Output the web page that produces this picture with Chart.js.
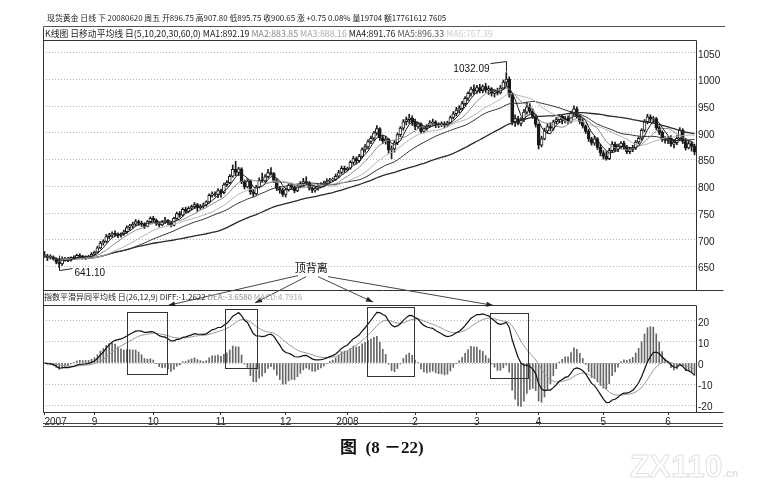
<!DOCTYPE html>
<html lang="zh-CN">
<head>
<meta charset="utf-8">
<title>现货黄金 日线 图(8-22)</title>
<script src="https://cdn.jsdelivr.net/npm/chart.js@4.4.1/dist/chart.umd.min.js"></script>
<style>
  body { margin: 0; background: #fff; }
  #wrap { position: relative; width: 763px; height: 484px; overflow: hidden; background: #fff; }
  #chart { position: absolute; left: 0; top: 0; }
  .row { position: absolute; white-space: nowrap; line-height: 1; font-family: "Noto Sans CJK SC", "Liberation Sans", sans-serif; font-size: 7.9px; color: #222; }
  .g1 { color: #888; }
  .g2 { color: #aaa; }
  .g3 { color: #555; }
  .g4 { color: #cfcfcf; }
  #rule { position: absolute; left: 43px; top: 26px; width: 682px; border-top: 1px solid #555; }
  #base { position: absolute; left: 43px; top: 423px; width: 680px; height: 2px; border-top: 1px solid #444; border-bottom: 1px solid #444; }
  #caption { position: absolute; left: 340px; top: 439px; font: bold 17px "Liberation Serif", "Noto Sans CJK SC", serif; color: #111; white-space: nowrap; line-height: 1; }
  #mark { position: absolute; left: 630px; top: 450px; font: bold 32px "Liberation Sans", sans-serif; color: transparent; -webkit-text-stroke: 1px #e2e2e2; white-space: nowrap; line-height: 1; }
  #mark small { font-size: 11px; -webkit-text-stroke: 0; color: #e2e2e2; }
</style>
</head>
<body>
<div id="wrap">
  <canvas id="chart" width="763" height="484"></canvas>
  <div class="row" style="left:47px;top:14px">现货黄金 日线 下 20080620 周五 开896.75 高907.80 低895.75 收900.65 涨 +0.75 0.08% 量19704 额17761612 7605</div>
  <div id="rule"></div>
  <div class="row" style="left:45px;top:30px;font-size:8.8px">K线图 日移动平均线 日(5,10,20,30,60,0) MA1:892.19 <span class="g1">MA2:883.85</span> <span class="g2">MA3:888.16</span> MA4:891.76 <span class="g3">MA5:896.33</span> <span class="g4">MA6:767.39</span></div>
  <div class="row" style="left:44px;top:293px;font-size:8px">指数平滑异同平均线 日(26,12,9) DIFF:-1.2622 <span class="g1">DEA:-3.6580</span> <span class="g2">MACD:4.7916</span></div>
  <div id="base"></div>
  <div id="caption">图 &nbsp;(8 －22)</div>
  <div id="mark">ZX110<small>.cn</small></div>
</div>
<script>
// month tick labels and number of daily bars in each month (2007-08-09 .. 2008-06-13)
const tickLabels = ['2007', '9', '10', '11', '12', '2008', '2', '3', '4', '5', '6'];
const monthBars = [17, 20, 23, 22, 21, 23, 21, 21, 22, 22, 10];

const opens = [
  672,670,666,668,664,658,655,664,665,662,667,666,671,669,667,668,669,
  673,677,685,694,697,706,709,712,710,708,711,715,723,726,729,734,731,729,725,734,
  740,737,730,728,733,737,732,727,740,749,746,757,753,759,762,766,760,763,765,771,783,786,785,
  792,788,803,807,819,832,826,833,809,799,810,790,786,799,812,810,818,826,824,811,796,793,
  785,794,802,798,792,801,805,809,807,797,793,796,801,803,806,810,812,813,819,826,834,
  831,834,845,852,848,856,869,874,884,890,900,908,891,885,888,868,870,882,897,909,921,925,928,
  920,912,917,903,908,913,919,921,914,915,917,914,919,929,936,943,946,955,965,974,982,
  978,985,979,987,980,983,974,977,975,984,995,1001,971,921,927,918,925,939,949,941,931,
  916,877,889,904,912,909,921,925,931,924,927,921,937,945,931,921,913,903,889,881,889,873,
  863,856,852,867,879,869,875,881,873,865,869,872,883,890,905,921,930,926,927,910,901,888,
  886,890,879,882,890,905,884,872,880,875
];
const highs = [
  678,673,672,670,666,664,668,667,667,668,670,673,674,671,670,671,676,
  679,688,697,700,710,712,715,717,713,713,718,726,729,733,738,737,735,732,736,743,
  744,739,733,736,742,738,735,742,752,753,760,761,762,765,770,768,766,769,773,786,790,790,796,
  795,806,811,822,840,847,836,835,812,815,811,794,802,816,825,822,832,835,826,814,800,797,
  797,805,806,801,804,809,815,818,809,801,800,805,807,810,814,815,816,823,830,838,838,
  836,848,856,855,860,872,878,887,894,903,914,910,896,893,890,876,886,900,912,925,930,935,932,
  926,920,919,910,916,923,926,923,919,921,921,922,932,940,948,951,959,968,977,986,990,
  989,991,990,993,988,985,981,984,989,999,1013,1005,974,934,931,929,944,957,955,945,934,
  917,894,909,917,919,924,929,934,935,931,932,941,951,949,934,927,915,907,892,894,891,879,
  867,865,871,884,883,879,884,885,877,873,877,886,893,908,925,935,934,931,929,913,904,893,
  893,895,888,895,910,908,890,885,884,879
];
const lows = [
  667,661,664,662,655,648,652,660,659,660,664,665,667,664,663,665,667,
  671,675,683,690,695,702,705,707,704,705,708,712,718,722,726,727,725,721,724,731,
  734,727,724,726,730,728,724,726,738,742,744,750,751,756,759,753,757,759,763,769,780,781,779,
  780,786,800,805,817,820,820,805,795,797,785,781,784,797,807,808,816,821,807,792,787,781,
  780,791,795,788,790,797,800,804,793,788,789,793,797,799,803,806,809,811,816,823,826,
  829,832,841,842,845,853,864,870,880,886,896,886,880,879,862,852,864,878,893,905,915,918,914,
  906,908,899,900,905,910,914,910,910,912,910,912,917,926,932,938,942,951,961,969,972,
  974,975,975,976,972,969,967,971,973,981,987,967,915,912,915,913,921,935,937,927,911,
  870,874,887,899,904,905,917,919,917,919,917,919,933,927,917,909,899,884,877,877,869,857,
  851,849,850,864,865,865,871,869,861,861,865,869,880,887,902,917,920,919,906,897,884,881,
  880,875,872,878,885,880,868,870,866,859
];
const closes = [
  670,666,668,664,658,655,664,665,662,667,666,671,669,667,668,669,673,
  677,685,694,697,706,709,712,710,708,711,715,723,726,729,734,731,729,725,734,740,
  737,730,728,733,737,732,727,740,749,746,757,753,759,762,766,760,763,765,771,783,786,785,792,
  788,803,807,819,832,826,833,809,799,810,790,786,799,812,810,818,826,824,811,796,793,785,
  794,802,798,792,801,805,809,807,797,793,796,801,803,806,810,812,813,819,826,834,831,
  834,845,852,848,856,869,874,884,890,900,908,891,885,888,868,870,882,897,909,921,925,928,920,
  912,917,903,908,913,919,921,914,915,917,914,919,929,936,943,946,955,965,974,982,978,
  985,979,987,980,983,974,977,975,984,995,1001,971,921,927,918,925,939,949,941,931,916,
  877,889,904,912,909,921,925,931,924,927,921,937,945,931,921,913,903,889,881,889,873,863,
  856,852,867,879,869,875,881,873,865,869,872,883,890,905,921,930,926,927,910,901,888,886,
  890,879,882,890,905,884,872,880,875,864
];

const priceTicks = [650, 700, 750, 800, 850, 900, 950, 1000, 1050];
const macdTicks = [-20, -10, 0, 10, 20];
const maPeriods = [5, 10, 20, 30, 60];
const maColors = ['#1a1a1a', '#8a8a8a', '#b5b5b5', '#333', '#2a2a2a'];

// annotations: labels printed on the chart
const peakLabel = '1032.09';
const lowLabel = '641.10';
const divergenceText = '顶背离';
const divergenceAt = [90.7, 647];                       // bar index, price
const arrowStarts = [[86.2, 633], [89, 631], [93, 631], [96.4, 631]];   // bar index, price
const arrowTips = [[42, 27.4], [71.6, 28.6], [111.7, 29], [152.6, 27.4]]; // bar index, MACD
const divergenceBoxes = [[28.1, 41.7, 24.3, -5.2], [61.4, 72.3, 25.7, -2.4], [109.7, 125.7, 26.7, -6.2], [151.5, 164.5, 23.8, -7.1]];

const labels = [];
monthBars.forEach((n, m) => {
    for (let k = 0; k < n; k++) labels.push(k === 0 ? tickLabels[m] : '');
});

function sma(arr, n) {
    return arr.map((v, i) => {
        const win = arr.slice(Math.max(0, i - n + 1), i + 1);
        return win.reduce((a, b) => a + b, 0) / win.length;
    });
}
function ema(arr, n) {
    const out = [];
    arr.forEach((v, i) => out.push(i === 0 ? v : (2 * v + (n - 1) * out[i - 1]) / (n + 1)));
    return out;
}

// MACD (26,12,9)
const ema12 = ema(closes, 12);
const ema26 = ema(closes, 26);
const diff = ema12.map((v, i) => v - ema26[i]);
const dea = ema(diff, 9);
const macdBars = diff.map((v, i) => 2 * (v - dea[i]));

const narrow = '"Liberation Sans Narrow", "Liberation Sans", sans-serif';

const panelFrame = {
    id: 'panelFrame',
    afterDraw(chart) {
        const { ctx, chartArea } = chart;
        const xs = chart.scales.x, py = chart.scales.y, my = chart.scales.y2;
        const L = Math.round(chartArea.left) + 0.5;
        const R = Math.round(chartArea.right) + 0.5;
        const tail = R + 27;
        const pt = Math.round(py.top) + 0.5, pb = Math.round(py.bottom) + 0.5;
        const mt = Math.round(my.top) + 0.5, mb = Math.round(my.bottom) + 0.5;
        const seg = (x1, y1, x2, y2) => {
            ctx.beginPath();
            ctx.moveTo(x1, y1);
            ctx.lineTo(x2, y2);
            ctx.stroke();
        };
        ctx.save();
        ctx.strokeStyle = '#333';
        ctx.lineWidth = 1;
        seg(L, pt - 13, L, mb);
        seg(L, pt, R, pt);
        seg(R, pt, R, pb);
        seg(L, pb, tail, pb);
        seg(L, mt, R, mt);
        seg(R, mt, R, mb);
        seg(L, mb, tail, mb);

        // boxes round the MACD tops
        divergenceBoxes.forEach(([i0, i1, v0, v1]) => {
            const bx = Math.round(xs.getPixelForValue(i0)) + 0.5;
            const bx2 = Math.round(xs.getPixelForValue(i1)) + 0.5;
            const by = Math.round(my.getPixelForValue(v0)) + 0.5;
            const by2 = Math.round(my.getPixelForValue(v1)) + 0.5;
            ctx.strokeRect(bx, by, bx2 - bx, by2 - by);
        });

        // arrows from the label down to the boxes
        ctx.fillStyle = '#222';
        ctx.strokeStyle = '#444';
        arrowStarts.forEach((s, k) => {
            const x1 = xs.getPixelForValue(s[0]), y1 = py.getPixelForValue(s[1]);
            const x2 = xs.getPixelForValue(arrowTips[k][0]), y2 = my.getPixelForValue(arrowTips[k][1]);
            const a = Math.atan2(y2 - y1, x2 - x1);
            seg(x1, y1, x2, y2);
            ctx.beginPath();
            ctx.moveTo(x2, y2);
            ctx.lineTo(x2 - 7 * Math.cos(a) + 2.5 * Math.sin(a), y2 - 7 * Math.sin(a) - 2.5 * Math.cos(a));
            ctx.lineTo(x2 - 7 * Math.cos(a) - 2.5 * Math.sin(a), y2 - 7 * Math.sin(a) + 2.5 * Math.cos(a));
            ctx.closePath();
            ctx.fill();
        });
        ctx.fillStyle = '#111';
        ctx.font = '11px "Noto Sans CJK SC", sans-serif';
        ctx.textAlign = 'center';
        ctx.textBaseline = 'middle';
        ctx.fillText(divergenceText, xs.getPixelForValue(divergenceAt[0]), py.getPixelForValue(divergenceAt[1]));

        // high / low markers
        ctx.strokeStyle = '#222';
        ctx.font = '10px ' + narrow;
        const hi = highs.indexOf(Math.max(...highs));
        const hx = Math.round(xs.getPixelForValue(hi)) + 0.5, hy = py.getPixelForValue(highs[hi]);
        ctx.beginPath();
        ctx.moveTo(hx, hy - 1);
        ctx.lineTo(hx, hy - 11);
        ctx.lineTo(hx - 16, hy - 9);
        ctx.stroke();
        ctx.textAlign = 'right';
        ctx.fillText(peakLabel, hx - 17, hy - 3);

        const lo = lows.indexOf(Math.min(...lows));
        const lx = Math.round(xs.getPixelForValue(lo)) + 0.5, ly = py.getPixelForValue(lows[lo]);
        ctx.beginPath();
        ctx.moveTo(lx, ly - 12);
        ctx.lineTo(lx, ly + 3);
        ctx.lineTo(lx + 13, ly + 1);
        ctx.stroke();
        ctx.textAlign = 'left';
        ctx.fillText(lowLabel, lx + 15, ly + 6);
        ctx.restore();
    }
};

const datasets = [
    {
        type: 'bar', label: 'wick', yAxisID: 'y', order: 3, grouped: false,
        data: lows.map((l, i) => [l, highs[i]]),
        barThickness: 1, backgroundColor: '#1a1a1a'
    },
    {
        type: 'bar', label: 'body', yAxisID: 'y', order: 2, grouped: false,
        data: opens.map((o, i) => [o, closes[i]]),
        barThickness: 3, borderWidth: 1, borderSkipped: false, borderColor: '#1a1a1a',
        backgroundColor: ctx => (closes[ctx.dataIndex] >= opens[ctx.dataIndex] ? '#fff' : '#1a1a1a')
    },
    {
        type: 'bar', label: 'MACD', yAxisID: 'y2', order: 4, grouped: false,
        data: macdBars, barThickness: 1, backgroundColor: '#666'
    },
    {
        type: 'line', label: 'DIFF', yAxisID: 'y2', order: 1, data: diff,
        borderColor: '#111', borderWidth: 1.2, pointRadius: 0
    },
    {
        type: 'line', label: 'DEA', yAxisID: 'y2', order: 1, data: dea,
        borderColor: '#999', borderWidth: 1, pointRadius: 0
    }
];
maPeriods.forEach((p, k) => {
    datasets.push({
        type: 'line', label: 'MA' + p, yAxisID: 'y', order: 1,
        data: sma(closes, p), borderColor: maColors[k],
        borderWidth: p === 60 ? 1.3 : 1, pointRadius: 0
    });
});

const tickFont = { size: 10, family: narrow };
const plainTick = v => String(v);

new Chart(document.getElementById('chart'), {
    type: 'bar',
    data: { labels, datasets },
    options: {
        responsive: false,
        animation: false,
        layout: { padding: { left: 43, top: 40, right: 37, bottom: 58 } },
        plugins: { legend: { display: false }, tooltip: { enabled: false } },
        scales: {
            x: {
                type: 'category',
                offset: true,
                grid: {
                    offset: false,
                    drawOnChartArea: false,
                    tickLength: 3,
                    color: c => (c.tick && c.tick.label ? '#333' : 'rgba(0,0,0,0)')
                },
                border: { display: false },
                ticks: { autoSkip: false, maxRotation: 0, align: 'inner', padding: 1, font: tickFont, color: '#222' },
                afterFit: s => { s.height = 14; }
            },
            y: {
                type: 'linear', position: 'right', stack: 'panels', stackWeight: 250,
                min: 606, max: 1074,
                afterBuildTicks: s => { s.ticks = priceTicks.map(v => ({ value: v })); },
                grid: { color: '#b4b4b4', drawTicks: false },
                border: { display: false, dash: [1, 2] },
                ticks: { autoSkip: false, padding: 2, labelOffset: 2, font: tickFont, color: '#222', callback: plainTick },
                afterFit: s => { s.width = 30; }
            },
            yg: {
                type: 'linear', position: 'right', stack: 'panels', stackWeight: 15,
                min: 0, max: 1,
                grid: { display: false },
                border: { display: false },
                ticks: { display: false },
                afterFit: s => { s.width = 30; }
            },
            y2: {
                type: 'linear', position: 'right', stack: 'panels', stackWeight: 107,
                min: -23.3, max: 27.6,
                afterBuildTicks: s => { s.ticks = macdTicks.map(v => ({ value: v })); },
                grid: { color: '#b4b4b4', drawTicks: false },
                border: { display: false, dash: [1, 2] },
                ticks: { autoSkip: false, padding: 2, labelOffset: 2, font: tickFont, color: '#222', callback: plainTick },
                afterFit: s => { s.width = 30; }
            }
        }
    },
    plugins: [panelFrame]
});
</script>
</body>
</html>
